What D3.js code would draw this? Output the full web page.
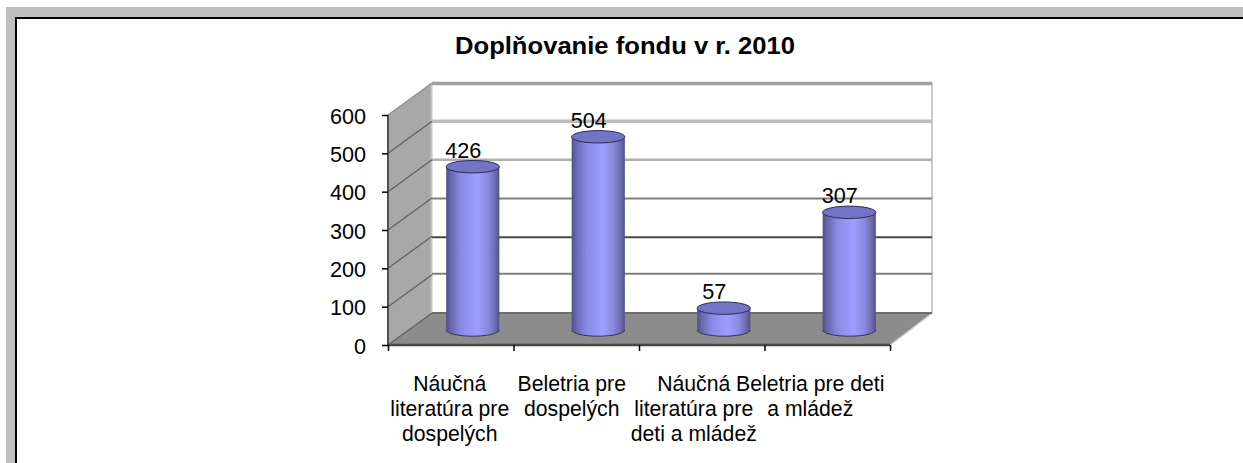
<!DOCTYPE html>
<html><head><meta charset="utf-8">
<style>html,body{margin:0;padding:0;background:#fff}svg{display:block}text{font-family:"Liberation Sans",Arial,sans-serif;fill:#000}</style>
<script src="https://cdn.jsdelivr.net/npm/d3@7/dist/d3.min.js"></script>
</head><body><svg id="c" width="1243" height="463"></svg>
<script>
const title = "Doplňovanie fondu v r. 2010";
const categories = ["Náučná literatúra pre dospelých","Beletria pre dospelých","Náučná literatúra pre deti a mládež","Beletria pre deti a mládež"];
const categoryLines = [["Náučná","literatúra pre","dospelých"],["Beletria pre","dospelých"],["Náučná","literatúra pre","deti a mládež"],["Beletria pre deti","a mládež"]];
const values = [426,504,57,307];
const yTicks = [0,100,200,300,400,500,600];
const gridStroke = {0:"#6e6e6e",100:"#808080",200:"#484848",300:"#808080",400:"#b0b0b0",500:"#bcbcbc",600:"#a0a0a0"};
const gridWidth = {0:2,100:2,200:2,300:2,400:2.5,500:3.5,600:3.5};
const gridNudge = {0:0,100:-1,200:1,300:0.5,400:0,500:0,600:0.5};

const svg = d3.select("#c");
const depth = {x:44,y:-32};
const y = d3.scaleLinear().domain([0,600]).range([345,115]);
const x = d3.scaleBand().domain(categories).range([388,890]);
const edges = d3.scaleLinear().domain([0,categories.length]).range([388,890]);
const labelShift = [-1,-4.5,-8,-17];

// page frame
svg.append("rect").attr("x",6).attr("y",7).attr("width",1237).attr("height",456).attr("fill","#c0c0c0");
svg.append("rect").attr("x",15).attr("y",17).attr("width",1228).attr("height",446).attr("fill","#000");
svg.append("rect").attr("x",17).attr("y",19).attr("width",1226).attr("height",444).attr("fill","#fff");

// title
svg.append("text").attr("x",625).attr("y",54).attr("text-anchor","middle")
  .attr("font-weight","bold").attr("font-size",24)
  .attr("textLength",340).attr("lengthAdjust","spacingAndGlyphs").text(title);

// 3D frame
const pt = (a,b)=>a+","+b;
const yTop = y(600), yZero = y(0), xL = edges(0), xR = edges(categories.length);
svg.append("polygon").attr("points",[pt(xL,yZero),pt(xL,yTop),pt(xL+depth.x,yTop+depth.y),pt(xL+depth.x,yZero+depth.y)].join(" ")).attr("fill","#a8a8a8");
svg.append("polygon").attr("points",[pt(xL,yZero),pt(xL+depth.x,yZero+depth.y),pt(xR+depth.x-2,yZero+depth.y),pt(xR,yZero)].join(" ")).attr("fill","#8c8c8c");
svg.append("line").attr("x1",xL+depth.x-0.5).attr("x2",xL+depth.x-0.5).attr("y1",yTop+depth.y).attr("y2",yZero+depth.y).attr("stroke","#c4c4c4").attr("stroke-width",2);
svg.append("line").attr("x1",xR+depth.x-2).attr("x2",xR+depth.x-2).attr("y1",yTop+depth.y).attr("y2",yZero+depth.y).attr("stroke","#b8b8b8").attr("stroke-width",1.5);
svg.append("line").attr("x1",xR).attr("y1",yZero).attr("x2",xR+depth.x-2).attr("y2",yZero+depth.y).attr("stroke","#c0c0c0").attr("stroke-width",1.5);

// gridlines on back wall and left wall
svg.append("g").selectAll("line.g").data(yTicks).join("line")
  .attr("x1",xL+depth.x).attr("x2",xR+depth.x-2)
  .attr("y1",d=>y(d)+depth.y+gridNudge[d]).attr("y2",d=>y(d)+depth.y+gridNudge[d])
  .attr("stroke",d=>gridStroke[d]).attr("stroke-width",d=>gridWidth[d]);
svg.append("g").selectAll("line").data(yTicks).join("line")
  .attr("x1",xL).attr("x2",xL+depth.x)
  .attr("y1",d=>y(d)).attr("y2",d=>y(d)+depth.y)
  .attr("stroke",d=>d===600?"#909090":"#626262").attr("stroke-width",1.3);

// axes
const yAxis = svg.append("g").attr("transform",`translate(${xL},0)`)
  .call(d3.axisLeft(y).tickValues(yTicks).tickSize(6).tickPadding(16).tickFormat(d3.format("d")));
yAxis.selectAll("text").attr("font-size",21.6).attr("font-family",null).attr("dy","0.38em");
yAxis.selectAll("line").attr("stroke","#000").attr("stroke-width",1.5);
yAxis.select(".domain").attr("stroke","#505050").attr("stroke-width",2).attr("d",`M0,${y(600)}V${y(0)}`);
const xAxis = svg.append("g").attr("transform",`translate(0,${yZero})`)
  .call(d3.axisBottom(edges).tickValues(d3.range(categories.length+1)).tickSize(6).tickFormat(""));
xAxis.selectAll("line").attr("stroke","#000").attr("stroke-width",1.5);
xAxis.select(".domain").attr("stroke","#484848").attr("stroke-width",2.5).attr("d",`M${xL},0H${xR}`);

// cylinders
const defs = svg.append("defs");
const grad = defs.append("linearGradient").attr("id","cyl");
[[0,"#50508c"],[0.08,"#6666aa"],[0.28,"#8a8ae6"],[0.58,"#9e9eff"],[0.78,"#8a8ae0"],[0.92,"#6c6cae"],[1,"#505084"]]
  .forEach(([o,c])=>grad.append("stop").attr("offset",o).attr("stop-color",c));
const barW = x.bandwidth()*0.424, ry = 6.2, dx = depth.x/2, dy = -15;
const rows = categories.map((c,i)=>({c,v:values[i],i}));
const bars = svg.append("g").selectAll("g").data(rows).join("g");
const cx = d=>x(d.c)+x.bandwidth()/2+dx;
const rx = barW/2;
bars.append("path").attr("fill","url(#cyl)")
  .attr("d",d=>{const l=cx(d)-rx,r=cx(d)+rx,t=y(d.v)+dy,b=yZero+dy;
    return `M${l},${t}L${l},${b}A${rx},${ry} 0 0 0 ${r},${b}L${r},${t}Z`;});
bars.append("path").attr("fill","none").attr("stroke","#33335f").attr("stroke-width",1)
  .attr("d",d=>{const l=cx(d)-rx,r=cx(d)+rx,b=yZero+dy;return `M${l},${b}A${rx},${ry} 0 0 0 ${r},${b}`;});
bars.append("ellipse").attr("cx",cx).attr("cy",d=>y(d.v)+dy).attr("rx",rx).attr("ry",ry)
  .attr("fill","#7474c4").attr("stroke","#2c2c58").attr("stroke-width",1);
bars.append("text").attr("x",d=>cx(d)-9.5).attr("y",d=>y(d.v)+dy-9).attr("text-anchor","middle")
  .attr("font-size",21.6).text(d=>d.v);

// category labels
const labels = svg.append("g").selectAll("text").data(rows).join("text")
  .attr("text-anchor","middle").attr("font-size",21.2);
labels.each(function(d){
  d3.select(this).selectAll("tspan").data(categoryLines[d.i]).join("tspan")
    .attr("x",x(d.c)+x.bandwidth()/2+labelShift[d.i])
    .attr("y",(l,j)=>391+j*25).text(l=>l);
});
</script></body></html>
